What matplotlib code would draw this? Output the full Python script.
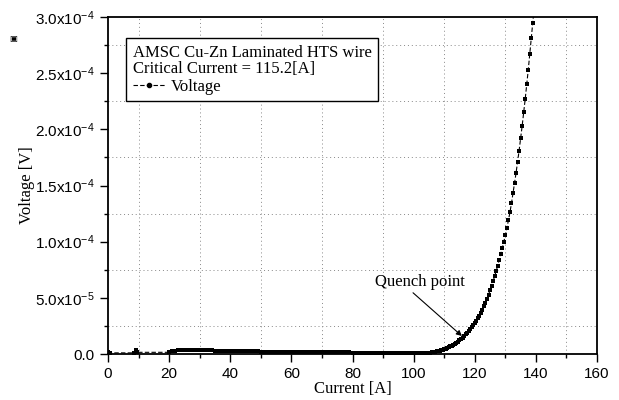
import numpy as np
import matplotlib
matplotlib.use("Agg")
import matplotlib.pyplot as plt
from matplotlib.lines import Line2D

plt.rcParams['font.family'] = ['Liberation Sans', 'DejaVu Sans']
plt.rcParams['mathtext.fontset'] = 'custom'
plt.rcParams['mathtext.rm'] = 'Liberation Sans'
plt.rcParams['mathtext.it'] = 'Liberation Sans:italic'
plt.rcParams['mathtext.bf'] = 'Liberation Sans:bold'

# start of the sweep (A, V in 1e-5 V)
start_i = [0.0, 0.5, 8.5, 9.0, 9.5, 20.0]
start_v = [0.2, 0.1, 0.1, 0.35, 0.15, 0.15]

# flat part, 1 A steps from 21 to 103
flat_i = list(range(21, 104))
flat_v = [0.25, 0.3, 0.35, 0.35, 0.35, 0.35, 0.35, 0.35, 0.35, 0.35,
          0.35, 0.35, 0.35, 0.35, 0.3, 0.3, 0.3, 0.3, 0.3, 0.3,
          0.3, 0.3, 0.3, 0.3, 0.25, 0.25, 0.25, 0.25, 0.25, 0.2,
          0.2, 0.2, 0.2, 0.2, 0.2, 0.2, 0.2, 0.2, 0.2, 0.15,
          0.15, 0.15, 0.15, 0.15, 0.15, 0.15, 0.15, 0.15, 0.15, 0.15,
          0.15, 0.15, 0.15, 0.15, 0.15, 0.15, 0.15, 0.15, 0.15, 0.1,
          0.1, 0.1, 0.1, 0.1, 0.1, 0.1, 0.1, 0.1, 0.1, 0.1,
          0.1, 0.1, 0.1, 0.1, 0.1, 0.1, 0.1, 0.1, 0.1, 0.1,
          0.1, 0.1, 0.1]

# transition, 0.5 A steps from 104 to 139.5
rise_i = [104.0 + 0.5 * k for k in range(72)]
rise_v = [0.05, 0.07, 0.09, 0.11, 0.14, 0.17, 0.20, 0.23, 0.27, 0.31,
          0.35, 0.39, 0.43, 0.48, 0.54, 0.60, 0.67, 0.74, 0.82, 0.91,
          1.00, 1.10, 1.21, 1.33, 1.46, 1.60, 1.75, 1.90, 2.05, 2.20,
          2.37, 2.55, 2.75, 2.95, 3.18, 3.42, 3.68, 3.96, 4.26, 4.58,
          4.92, 5.28, 5.66, 6.06, 6.48, 6.92, 7.38, 7.86, 8.36, 8.88,
          9.42, 9.98, 10.6, 11.2, 11.9, 12.6, 13.4, 14.3, 15.2, 16.1,
          17.1, 18.1, 19.2, 20.3, 21.5, 22.7, 24.0, 25.3, 26.7, 28.1,
          29.5, 31.0]

current = np.array(start_i + flat_i + rise_i, dtype=float)
voltage = np.array(start_v + flat_v + rise_v) * 1e-5

x_ticks = [0, 20, 40, 60, 80, 100, 120, 140, 160]
y_ticks = [0, 5e-5, 1e-4, 1.5e-4, 2e-4, 2.5e-4, 3e-4]
y_tick_labels = ['0.0', '5.0x10$^{-5}$', '1.0x10$^{-4}$', '1.5x10$^{-4}$',
                 '2.0x10$^{-4}$', '2.5x10$^{-4}$', '3.0x10$^{-4}$']

serif = 'Liberation Serif'

fig = plt.figure(figsize=(6.19, 4.0), dpi=100)
ax = fig.add_axes([0.1745, 0.115, 0.79, 0.8425])

ax.plot(current, voltage, color='k', linestyle='--', dashes=(4, 2), linewidth=0.8,
        marker='s', markersize=3.0, markeredgewidth=0)

ax.set_xlim(0, 160)
ax.set_ylim(0, 3e-4)
ax.set_xticks(x_ticks)
ax.set_xticks(np.arange(10, 160, 20), minor=True)
ax.set_yticks(y_ticks)
ax.set_yticklabels(y_tick_labels)
ax.set_yticks(np.arange(2.5e-5, 3e-4, 5e-5), minor=True)
ax.grid(which='minor', linestyle=(0, (1, 3)), color='#888888', linewidth=0.7)
ax.tick_params(which='major', direction='out', length=6, width=1, labelsize=11)
ax.tick_params(which='minor', direction='out', length=3, width=1)
for s in ax.spines.values():
    s.set_linewidth(1.3)

ax.set_xlabel('Current [A]', family=serif, fontsize=12, labelpad=0)
ax.set_ylabel('Voltage [V]', family=serif, fontsize=12, labelpad=0)

handle = Line2D([], [], color='k', linestyle='--', dashes=(4, 2), linewidth=0.8,
                marker='o', markersize=3)
leg = ax.legend([handle], ['Voltage'],
                title='AMSC Cu-Zn Laminated HTS wire\nCritical Current = 115.2[A]',
                loc='upper left', bbox_to_anchor=(0.037, 0.938), borderaxespad=0,
                fancybox=False, edgecolor='k', framealpha=1, numpoints=1,
                handlelength=2.0, handletextpad=0.3, alignment='left',
                prop={'family': serif, 'size': 12}, labelspacing=0.2,
                borderpad=0.4)
leg.get_title().set_fontfamily(serif)
leg.get_title().set_fontsize(12)
leg.get_title().set_linespacing(1.05)
leg._legend_box.sep = 1
leg.get_frame().set_linewidth(1.0)

ax.text(87.4, 6.4e-5, 'Quench point', family=serif,
        fontsize=12, va='center', ha='left')
ax.annotate('', xy=(115.8, 1.6e-5), xytext=(99.8, 5.45e-5),
            arrowprops=dict(arrowstyle='-|>', color='k', lw=0.8,
                            mutation_scale=8, shrinkA=0, shrinkB=0))

fig.text(0.021, 1 - 38 / 400, '\u25a3', family='DejaVu Sans', fontsize=6,
         ha='center', va='center')

fig.savefig('out.png', dpi=100)
